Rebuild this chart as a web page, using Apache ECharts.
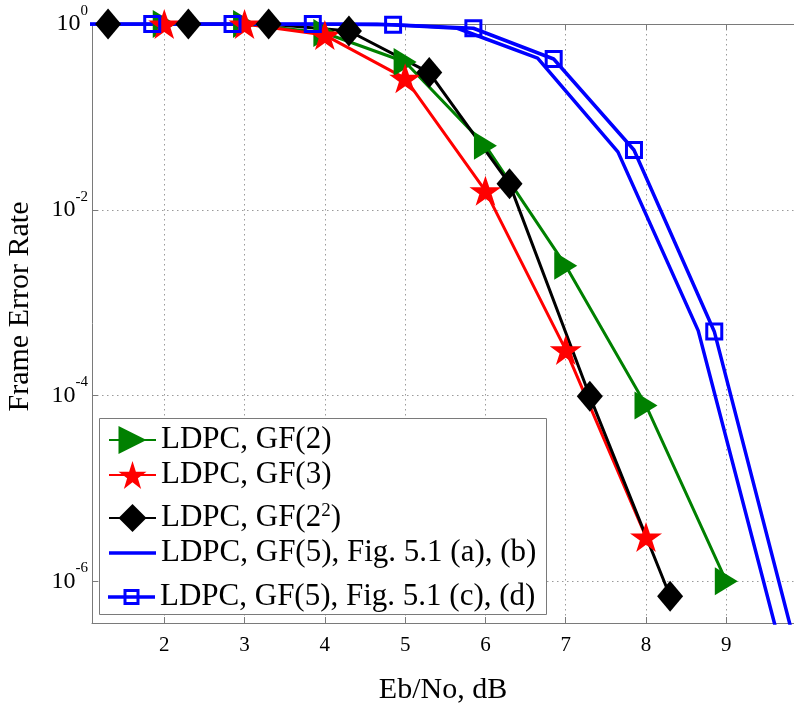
<!DOCTYPE html>
<html>
<head>
<meta charset="utf-8">
<script src="https://cdn.jsdelivr.net/npm/echarts@6/dist/echarts.min.js"></script>
<style>
  html, body { margin: 0; padding: 0; background: #fff; }
  #chart { width: 794px; height: 705px; }
</style>
</head>
<body>
<div id="chart"></div>
<script>
// Frame error rate vs Eb/No for LDPC codes over several Galois fields
const ebnoGF2 = [2, 3, 4, 5, 6, 7, 8, 9];
const ferGF2 = [1, 1, 0.8, 0.39, 0.049, 2.5e-3, 7.8e-5, 1.0e-6];

const ebnoGF3 = [2, 3, 4, 5, 6, 7, 8];
const ferGF3 = [1, 1, 0.76, 0.26, 0.016, 3.1e-4, 3.0e-6];

const ebnoGF4 = [1.3, 2.3, 3.3, 4.3, 5.3, 6.3, 7.3, 8.3];
const ferGF4 = [1, 1, 1, 0.84, 0.30, 0.019, 9.8e-5, 6.9e-7];

const ebnoGF5ab = [0.65, 1.65, 2.65, 3.65, 4.65, 5.65, 6.65, 7.65, 8.65, 9.65];
const ferGF5ab = [1, 1, 1, 1, 1, 0.9, 0.43, 0.042, 5.0e-4, 2.4e-7];

const ebnoGF5cd = [0.85, 1.85, 2.85, 3.85, 4.85, 5.85, 6.85, 7.85, 8.85, 9.85];
const ferGF5cd = [1, 1, 1, 1, 0.98, 0.9, 0.42, 0.044, 4.9e-4, 2.2e-7];

const xTicks = [2, 3, 4, 5, 6, 7, 8, 9];
const yTicks = [1e-6, 1e-4, 1e-2, 1];

const names = [
  'LDPC, GF(2)',
  'LDPC, GF(3)',
  'LDPC, GF(2^2)',
  'LDPC, GF(5), Fig. 5.1 (a), (b)',
  'LDPC, GF(5), Fig. 5.1 (c), (d)'
];

const pairs = (xs, ys) => xs.map((x, i) => [x, ys[i]]);

const FONT = '"Liberation Serif", "DejaVu Serif", serif';
const AXIS_GRAY = '#7a7a7a';
const GRID_GRAY = '#9a9a9a';

const STAR = 'path://M50,0 L61.8,35.1 L98.9,35.1 L68.8,56.7 L80.2,91.8 L50,70 L19.8,91.8 L31.2,56.7 L1.1,35.1 L38.2,35.1 Z';
const RING = 'path://M0,0H18V18H0Z M3,3V15H15V3Z';
const LEGEND_LINE = 'path://M0,-1.75H47V1.75H0Z';
const LEGEND_LINE_RING = 'path://M0,-1.75H47V1.75H0Z M15.5,-8H31.5V8H15.5Z M18.5,-5V5H28.5V-5Z';

const legendText = {
  fontFamily: FONT,
  fontSize: 31,
  color: '#000',
  lineHeight: 35,
  rich: {
    b: { fontFamily: FONT, fontSize: 31, color: '#000', lineHeight: 35 },
    s: { fontFamily: FONT, fontSize: 19, color: '#000', padding: [0, 0, 14, 0] }
  }
};
const legendFormatter = function (name) {
  if (name.indexOf('^') >= 0) {
    const parts = name.split('^');
    return '{b|' + parts[0] + '}{s|' + parts[1].charAt(0) + '}{b|' + parts[1].slice(1) + '}';
  }
  return name;
};
const legendBase = {
  orient: 'vertical',
  left: 108,
  padding: 0,
  itemGap: 0,
  itemWidth: 47,
  itemHeight: 35,
  selectedMode: false,
  textStyle: legendText,
  formatter: legendFormatter
};

const chart = echarts.init(document.getElementById('chart'), null, { renderer: 'canvas' });

chart.setOption({
  backgroundColor: '#fff',
  animation: false,
  grid: { left: 92, right: 0, top: 24, bottom: 82, containLabel: false, outerBoundsMode: 'none' },
  xAxis: [
    {
      type: 'value',
      position: 'bottom',
      min: 1.1,
      max: 9.843,
      name: 'Eb/No, dB',
      nameLocation: 'middle',
      nameGap: 52,
      nameTextStyle: { fontFamily: FONT, fontSize: 30, color: '#000' },
      axisLine: { show: true, lineStyle: { color: AXIS_GRAY, width: 1 } },
      axisTick: { show: true, inside: true, length: 6, customValues: xTicks, lineStyle: { color: AXIS_GRAY } },
      axisLabel: { customValues: xTicks, fontFamily: FONT, fontSize: 21, color: '#000', margin: 12 },
      splitLine: { show: true, lineStyle: { color: GRID_GRAY, width: 1, type: [1.5, 3.5] } }
    },
    {
      type: 'value',
      position: 'top',
      min: 1.1,
      max: 9.843,
      axisLine: { show: true, lineStyle: { color: AXIS_GRAY, width: 1 } },
      axisTick: { show: true, inside: true, length: 6, customValues: xTicks, lineStyle: { color: AXIS_GRAY } },
      axisLabel: { show: false },
      splitLine: { show: false }
    }
  ],
  yAxis: {
    type: 'log',
    logBase: 10,
    min: 3.556e-7,
    max: 1,
    name: 'Frame Error Rate',
    nameLocation: 'middle',
    nameGap: 57,
    nameTextStyle: { fontFamily: FONT, fontSize: 30, color: '#000', padding: [0, 0, 0, 34] },
    axisLine: { show: true, lineStyle: { color: AXIS_GRAY, width: 1 } },
    axisTick: { show: true, inside: true, length: 6, customValues: yTicks, lineStyle: { color: AXIS_GRAY } },
    axisLabel: {
      customValues: yTicks,
      margin: 4,
      formatter: function (v) {
        const e = Math.round(Math.log10(v));
        return '{b|10}{s|' + e + '}';
      },
      rich: {
        b: { fontFamily: FONT, fontSize: 24, color: '#000' },
        s: { fontFamily: FONT, fontSize: 15, color: '#000', padding: [0, 0, 26, 0] }
      }
    },
    splitLine: { show: true, lineStyle: { color: GRID_GRAY, width: 1, type: [1.5, 3.5] } }
  },
  legend: [
    Object.assign({}, legendBase, { top: 422.5, data: [names[0], names[1]] }),
    Object.assign({}, legendBase, {
      top: 500.5,
      data: [names[2], { name: names[3], icon: LEGEND_LINE }]
    }),
    Object.assign({}, legendBase, {
      top: 579.5,
      data: [{ name: names[4], icon: LEGEND_LINE_RING }]
    })
  ],
  graphic: {
    elements: [{
      type: 'rect',
      z: 3,
      shape: { x: 99.5, y: 418.5, width: 447, height: 196 },
      style: { fill: '#fff', stroke: '#7a7a7a', lineWidth: 1 }
    }]
  },
  series: [
    {
      name: names[0],
      type: 'line',
      data: pairs(ebnoGF2, ferGF2),
      color: '#008000',
      symbol: 'triangle',
      symbolSize: [28, 23],
      symbolRotate: -90,
      showAllSymbol: true,
      lineStyle: { width: 3, color: '#008000' },
      itemStyle: { color: '#008000' }
    },
    {
      name: names[1],
      type: 'line',
      data: pairs(ebnoGF3, ferGF3),
      color: '#ff0000',
      symbol: STAR,
      symbolSize: [32, 30],
      showAllSymbol: true,
      lineStyle: { width: 3, color: '#ff0000' },
      itemStyle: { color: '#ff0000' }
    },
    {
      name: names[2],
      type: 'line',
      data: pairs(ebnoGF4, ferGF4),
      color: '#000000',
      symbol: 'diamond',
      symbolSize: [26, 31],
      showAllSymbol: true,
      lineStyle: { width: 3, color: '#000000' },
      itemStyle: { color: '#000000' }
    },
    {
      name: names[3],
      type: 'line',
      data: pairs(ebnoGF5ab, ferGF5ab),
      color: '#0000ff',
      symbol: 'none',
      lineStyle: { width: 3.5, color: '#0000ff' },
      itemStyle: { color: '#0000ff' }
    },
    {
      name: names[4],
      type: 'line',
      data: pairs(ebnoGF5cd, ferGF5cd),
      color: '#0000ff',
      symbol: RING,
      symbolSize: 18,
      showAllSymbol: true,
      lineStyle: { width: 3.5, color: '#0000ff' },
      itemStyle: { color: '#0000ff' }
    }
  ]
});
</script>
</body>
</html>
